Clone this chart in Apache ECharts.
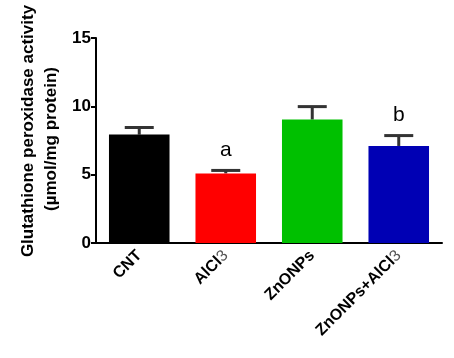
<!DOCTYPE html>
<html><head><meta charset="utf-8">
<script src="https://cdn.jsdelivr.net/npm/echarts@6/dist/echarts.min.js"></script>
<style>html,body{margin:0;padding:0;background:#fff}#c{width:454px;height:358px}</style>
</head><body><div id="c"></div>
<script>
var categories = ['CNT', 'AlCl3', 'ZnONPs', 'ZnONPs+AlCl3'];
var means = [7.93, 5.09, 9.03, 7.10];
var errors = [0.52, 0.22, 0.95, 0.76];
var letters = ['', 'a', '', 'b'];
var colors = ['#000000', '#ff0000', '#00c000', '#0000b4'];
var yTicks = [0, 5, 10, 15];

var chart = echarts.init(document.getElementById('c'));
var font = 'Liberation Sans, Arial, sans-serif';
chart.setOption({
  animation: false,
  grid: {left: 96, right: 12, top: 38, bottom: 115},
  xAxis: {
    type: 'category', data: categories,
    axisLine: {lineStyle: {color: '#000', width: 2}},
    axisTick: {alignWithLabel: true, length: 5, lineStyle: {color: '#000', width: 2}},
    axisLabel: {
      rotate: 45, interval: 0, margin: 10, color: '#000',
      fontFamily: font, fontWeight: 'bold', fontSize: 16,
      formatter: function (v) { return v.replace(/AlCl3/g, 'AlCl{s|3}'); },
      rich: {s: {fontFamily: font, fontWeight: 'normal', fontSize: 16, color: '#555'}}
    }
  },
  yAxis: {
    type: 'value', min: 0, max: 15, interval: 5,
    axisLine: {show: true, lineStyle: {color: '#000', width: 2}},
    axisTick: {show: true, length: 5, lineStyle: {color: '#000', width: 2}},
    axisLabel: {color: '#000', fontFamily: font, fontWeight: 'bold', fontSize: 17, margin: 5},
    splitLine: {show: false}
  },
  graphic: [
    {type: 'text', x: 20, y: 131, rotation: Math.PI / 2, style: {text: 'Glutathione peroxidase activity', font: 'bold 17px ' + font, fill: '#000', align: 'center', verticalAlign: 'top'}},
    {type: 'text', x: 43, y: 139, rotation: Math.PI / 2, style: {text: '(µmol/mg protein)', font: 'bold 17px ' + font, fill: '#000', align: 'center', verticalAlign: 'top'}}
  ],
  series: [
    {
      type: 'bar', barWidth: '70%',
      data: means.map(function (v, i) { return {value: v, itemStyle: {color: colors[i]}}; })
    },
    {
      type: 'custom', z: 1,
      renderItem: function (params, api) {
        var i = api.value(0);
        var m = means[i], e = errors[i];
        var p0 = api.coord([i, m]);
        var p1 = api.coord([i, m + e]);
        var hw = 14.5;
        var children = [
          {type: 'line', shape: {x1: p0[0], y1: p0[1], x2: p1[0], y2: p1[1]}, style: {stroke: '#333', lineWidth: 3}},
          {type: 'line', shape: {x1: p1[0] - hw, y1: p1[1], x2: p1[0] + hw, y2: p1[1]}, style: {stroke: '#333', lineWidth: 3}}
        ];
        if (letters[i]) {
          children.push({type: 'text', x: p1[0], y: p1[1] - 20, style: {text: letters[i], font: '21px ' + font, fill: '#000', align: 'center', verticalAlign: 'middle'}});
        }
        return {type: 'group', children: children};
      },
      data: categories.map(function (c, i) { return [i]; })
    }
  ]
});
</script></body></html>
